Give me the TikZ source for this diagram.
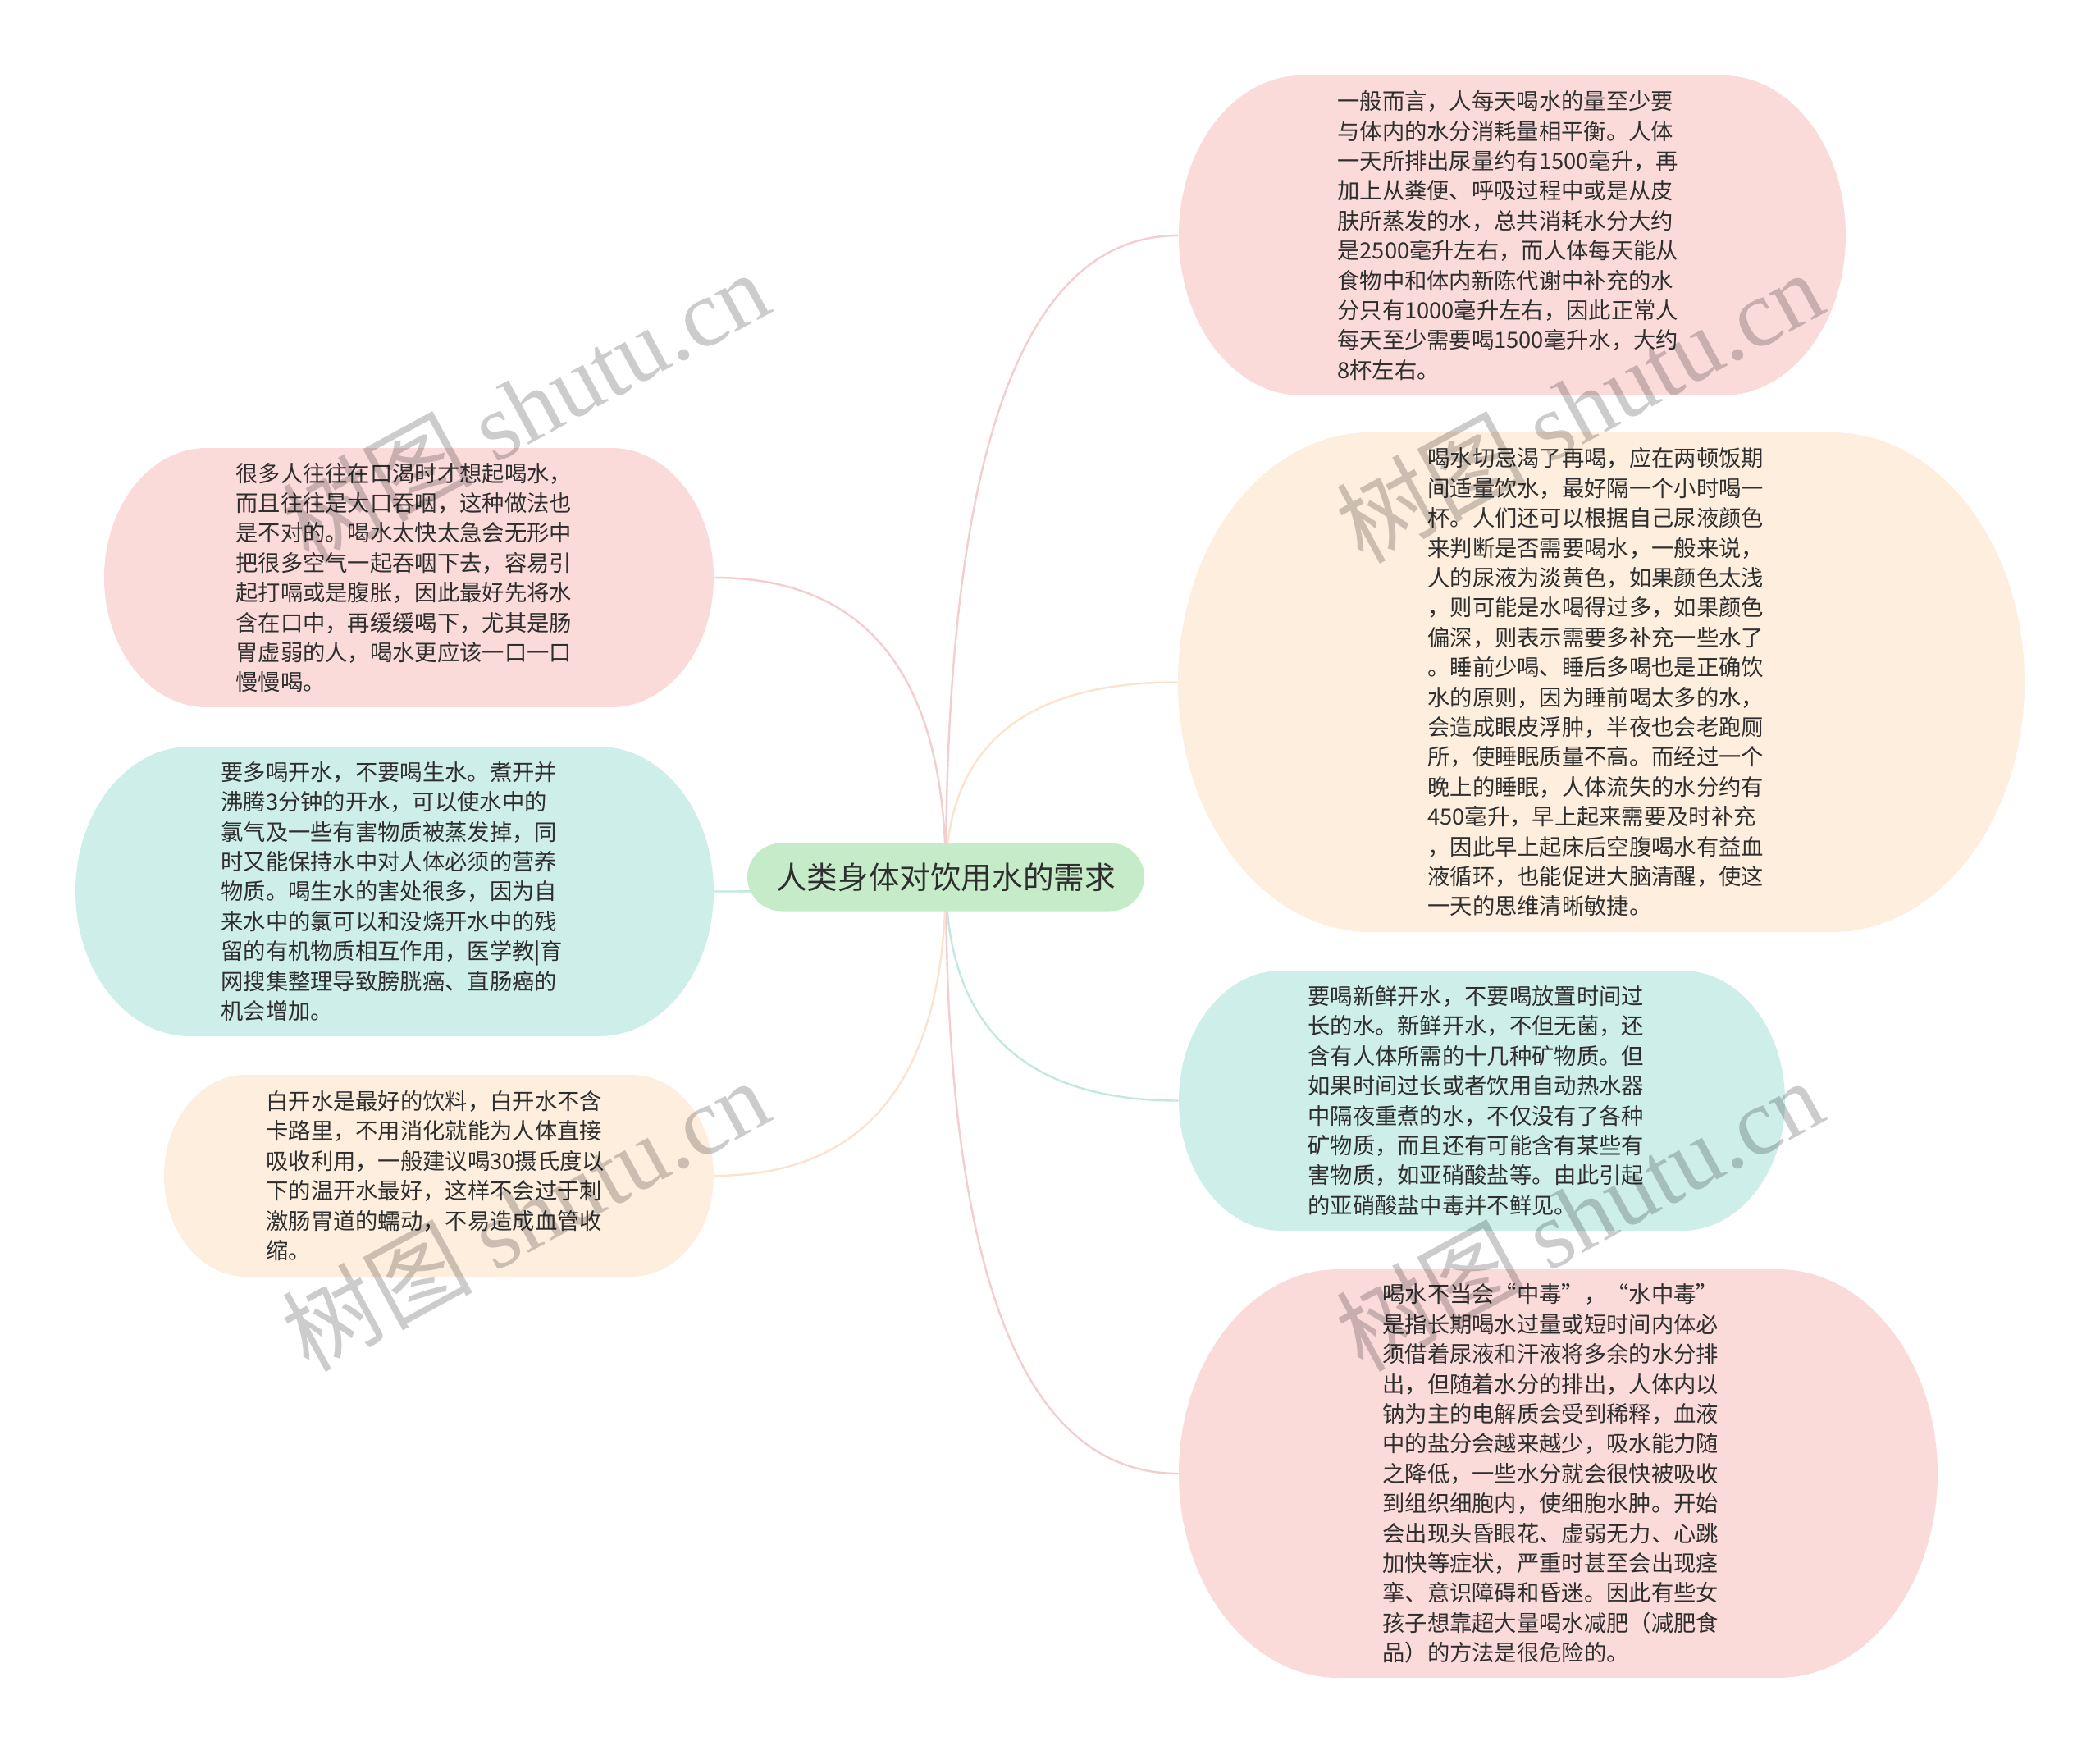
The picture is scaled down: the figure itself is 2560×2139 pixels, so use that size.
\documentclass[tikz,border=0pt]{standalone}
\usepackage{fontspec}
\setmainfont{Noto Sans CJK SC}
\newfontfamily\wmlatin{Liberation Serif}
\usetikzlibrary{calc}
\pgfdeclarelayer{background}
\pgfdeclarelayer{foreground}
\pgfsetlayers{background,main,foreground}

\definecolor{pinkfill}{HTML}{FBDADA}
\definecolor{peachfill}{HTML}{FEEEDE}
\definecolor{mintfill}{HTML}{CEEFE9}
\definecolor{greenfill}{HTML}{C6EBC9}
\definecolor{pinkline}{HTML}{F3CDCF}
\definecolor{peachline}{HTML}{FBE4CF}
\definecolor{mintline}{HTML}{C0E9E2}
\definecolor{txt}{HTML}{2E2E2E}

\tikzset{
  boxarea/.style={rectangle, inner sep=0pt, draw=none},
  bodytext/.style={font=\fontsize{13.65pt}{18.2pt}\selectfont, text=txt, align=left, inner sep=0pt, anchor=west},
  centerbox/.style={rectangle, rounded corners=20.75pt, fill=greenfill, minimum width=242pt, minimum height=41.5pt,
     font=\fontsize{18.8pt}{22pt}\selectfont, text=txt, inner sep=0pt},
  link/.style={line width=1.2pt},
  wm/.style={rotate=28.6, text=black, text opacity=0.2, font=\fontsize{58pt}{66pt}\selectfont, inner sep=0pt}
}

% name, x1, y1, x2, y2, rx, colour  (pixel units, y downwards)
\newcommand\bubble[7]{%
  \fill[#7] ({#2+#6},#3) rectangle ({#4-#6},#5);
  \fill[#7] ({#2+#6},{(#3+#5)/2}) ellipse [x radius={#6*0.5pt}, y radius={(#5-#3)*0.25pt}];
  \fill[#7] ({#4-#6},{(#3+#5)/2}) ellipse [x radius={#6*0.5pt}, y radius={(#5-#3)*0.25pt}];
  \node[boxarea, minimum width={(#4-#2)*0.5pt}, minimum height={(#5-#3)*0.5pt}] (#1) at ({(#2+#4)/2},{(#3+#5)/2}) {};
}

\begin{document}
\begin{tikzpicture}[x=0.5pt, y=-0.5pt]
\begin{pgfonlayer}{background}
  \fill[white] (0,0) rectangle (2560,2139);
\end{pgfonlayer}
\useasboundingbox (0,0) rectangle (2560,2139);

% bubbles
\bubble{n1}{1437}{92}{2250}{482}{150}{pinkfill}
\bubble{n2}{1436}{527}{2468}{1136}{235}{peachfill}
\bubble{n3}{1437}{1183}{2176}{1500}{125}{mintfill}
\bubble{n4}{1437}{1547}{2362}{2045}{195}{pinkfill}
\bubble{n5}{127}{546}{870}{862}{125}{pinkfill}
\bubble{n6}{92}{910}{870}{1263}{140}{mintfill}
\bubble{n7}{200}{1310}{870}{1556}{100}{peachfill}

% centre
\node[centerbox] (c) at (1153,1069) {人类身体对饮用水的需求};

% texts
\node[bodytext] (t1) at (1630,287) {一般而言，人每天喝水的量至少要\\与体内的水分消耗量相平衡。人体\\一天所排出尿量约有1500毫升，再\\加上从粪便、呼吸过程中或是从皮\\肤所蒸发的水，总共消耗水分大约\\是2500毫升左右，而人体每天能从\\食物中和体内新陈代谢中补充的水\\分只有1000毫升左右，因此正常人\\每天至少需要喝1500毫升水，大约\\8杯左右。};

\node[bodytext] (t2) at (1740,831.5) {喝水切忌渴了再喝，应在两顿饭期\\间适量饮水，最好隔一个小时喝一\\杯。人们还可以根据自己尿液颜色\\来判断是否需要喝水，一般来说，\\人的尿液为淡黄色，如果颜色太浅\\，则可能是水喝得过多，如果颜色\\偏深，则表示需要多补充一些水了\\。睡前少喝、睡后多喝也是正确饮\\水的原则，因为睡前喝太多的水，\\会造成眼皮浮肿，半夜也会老跑厕\\所，使睡眠质量不高。而经过一个\\晚上的睡眠，人体流失的水分约有\\450毫升，早上起来需要及时补充\\，因此早上起床后空腹喝水有益血\\液循环，也能促进大脑清醒，使这\\一天的思维清晰敏捷。};

\node[bodytext] (t3) at (1594,1341.5) {要喝新鲜开水，不要喝放置时间过\\长的水。新鲜开水，不但无菌，还\\含有人体所需的十几种矿物质。但\\如果时间过长或者饮用自动热水器\\中隔夜重煮的水，不仅没有了各种\\矿物质，而且还有可能含有某些有\\害物质，如亚硝酸盐等。由此引起\\的亚硝酸盐中毒并不鲜见。};

\node[bodytext] (t4) at (1685,1796) {喝水不当会“中毒”，“水中毒”\\是指长期喝水过量或短时间内体必\\须借着尿液和汗液将多余的水分排\\出，但随着水分的排出，人体内以\\钠为主的电解质会受到稀释，血液\\中的盐分会越来越少，吸水能力随\\之降低，一些水分就会很快被吸收\\到组织细胞内，使细胞水肿。开始\\会出现头昏眼花、虚弱无力、心跳\\加快等症状，严重时甚至会出现痉\\挛、意识障碍和昏迷。因此有些女\\孩子想靠超大量喝水减肥（减肥食\\品）的方法是很危险的。};

\node[bodytext] (t5) at (287,704) {很多人往往在口渴时才想起喝水，\\而且往往是大口吞咽，这种做法也\\是不对的。喝水太快太急会无形中\\把很多空气一起吞咽下去，容易引\\起打嗝或是腹胀，因此最好先将水\\含在口中，再缓缓喝下，尤其是肠\\胃虚弱的人，喝水更应该一口一口\\慢慢喝。};

\node[bodytext] (t6) at (269,1086.5) {要多喝开水，不要喝生水。煮开并\\沸腾3分钟的开水，可以使水中的\\氯气及一些有害物质被蒸发掉，同\\时又能保持水中对人体必须的营养\\物质。喝生水的害处很多，因为自\\来水中的氯可以和没烧开水中的残\\留的有机物质相互作用，医学教|育\\网搜集整理导致膀胱癌、直肠癌的\\机会增加。};

\node[bodytext] (t7) at (324,1433) {白开水是最好的饮料，白开水不含\\卡路里，不用消化就能为人体直接\\吸收利用，一般建议喝30摄氏度以\\下的温开水最好，这样不会过于刺\\激肠胃道的蠕动，不易造成血管收\\缩。};

% connectors
\begin{pgfonlayer}{background}
\foreach \n/\col in {n1/pinkline, n2/peachline, n3/mintline, n4/pinkline} {
  \draw[link, \col] (c.center) .. controls ($(c.center)!0.667!(c.center |- \n.west)$) and ($(\n.west)!0.667!(c.center |- \n.west)$) .. (\n.west);
}
\foreach \n/\col in {n5/pinkline, n6/mintline, n7/peachline} {
  \draw[link, \col] (c.center) .. controls ($(c.center)!0.667!(c.center |- \n.east)$) and ($(\n.east)!0.667!(c.center |- \n.east)$) .. (\n.east);
}
\end{pgfonlayer}

% watermarks
\begin{pgfonlayer}{foreground}
\node[wm] (w1) at (640,495) {树图 {\wmlatin shutu.cn}};
\node[wm] (w2) at (1925,495) {树图 {\wmlatin shutu.cn}};
\node[wm] (w3) at (640,1480) {树图 {\wmlatin shutu.cn}};
\node[wm] (w4) at (1925,1480) {树图 {\wmlatin shutu.cn}};
\end{pgfonlayer}
\end{tikzpicture}
\end{document}
